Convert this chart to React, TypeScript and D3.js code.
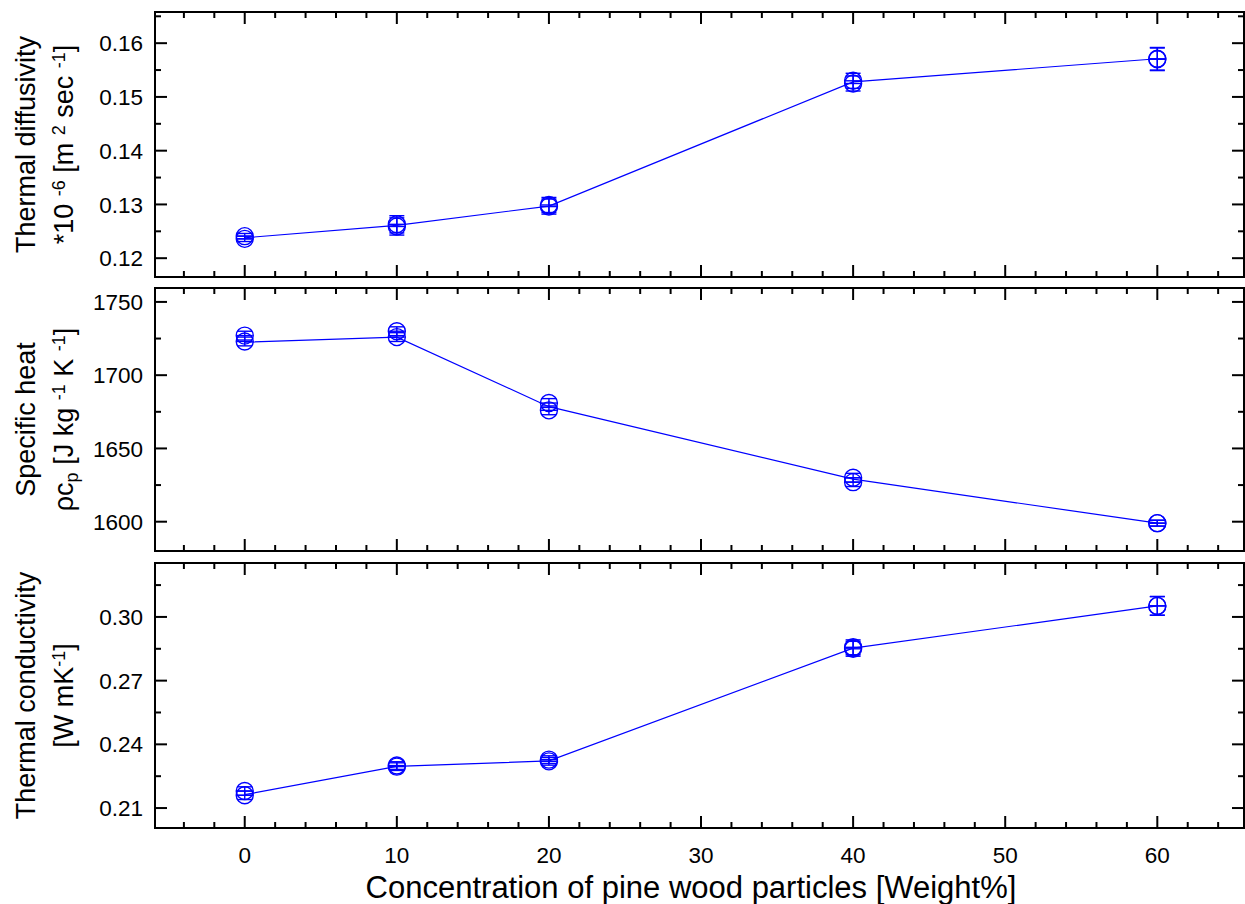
import React, { useEffect, useRef } from 'react';
import * as d3 from 'd3';

// concentration of pine wood particles (weight %)
const concentration = [0, 10, 20, 40, 60];

// thermal diffusivity *1e-6 m2/s
const diffMean = [0.1238, 0.1261, 0.1297, 0.1528, 0.1571];
const diffRepA = [0.1241, 0.1263, 0.1299, 0.1530, 0.1571];
const diffRepB = [0.1236, 0.1259, 0.1296, 0.1525, 0.1570];
const diffErr = [0.0005, 0.0016, 0.0014, 0.0014, 0.0021];

// specific heat rho*cp
const heatMean = [1722.5, 1726, 1678.5, 1629, 1599];
const heatRepA = [1727, 1730, 1681, 1630, 1599];
const heatRepB = [1723, 1726, 1676, 1627, 1599];
const heatErr = [3, 3, 3, 3, 2];

// thermal conductivity W/mK
const condMean = [0.2163, 0.2296, 0.2322, 0.2853, 0.3052];
const condRepA = [0.2180, 0.2300, 0.2328, 0.2857, 0.3052];
const condRepB = [0.2160, 0.2295, 0.2320, 0.2850, 0.3052];
const condErr = [0.002, 0.0018, 0.0018, 0.0035, 0.0044];

const xTicks = [0, 10, 20, 30, 40, 50, 60];

const BLUE = '#0000ff';
const FONT = 'Liberation Sans, Arial, sans-serif';

type Panel = {
  top: number;
  bottom: number;
  domain: [number, number];
  ticks: number[];
  minor: number;
  fmt: (v: number) => string;
  mean: number[];
  reps: number[][];
  err: number[];
  label1: string;
  label2: (t: any) => void;
};

export default function App() {
  const ref = useRef<SVGSVGElement>(null);

  useEffect(() => {
    const svg = d3.select(ref.current);
    svg.selectAll('*').remove();

    const left = 155, right = 1244;
    const x = d3.scaleLinear().domain([-5.9, 65.7]).range([left, right]);

    const sup = (t: any, s: string) =>
      t.append('tspan').attr('baseline-shift', '45%').attr('font-size', 18).text(s);
    const sub = (t: any, s: string) =>
      t.append('tspan').attr('baseline-shift', '-25%').attr('font-size', 18).text(s);
    const txt = (t: any, s: string) =>
      t.append('tspan').attr('baseline-shift', '0').text(s);

    const panels: Panel[] = [
      {
        top: 12, bottom: 277, domain: [0.1165, 0.1658],
        ticks: [0.12, 0.13, 0.14, 0.15, 0.16], minor: 0.005,
        fmt: d3.format('.2f'),
        mean: diffMean, reps: [diffRepA, diffRepB], err: diffErr,
        label1: 'Thermal diffusivity',
        label2: (t) => {
          txt(t, '*10 ');
          sup(t, '-6');
          txt(t, '  [m ');
          sup(t, '2');
          txt(t, ' sec ');
          sup(t, '-1');
          txt(t, ']');
        },
      },
      {
        top: 288, bottom: 551, domain: [1580, 1759.5],
        ticks: [1600, 1650, 1700, 1750], minor: 25,
        fmt: d3.format('d'),
        mean: heatMean, reps: [heatRepA, heatRepB], err: heatErr,
        label1: 'Specific heat',
        label2: (t) => {
          txt(t, '\u03c1c');
          sub(t, 'p');
          txt(t, ' [J kg ');
          sup(t, '-1');
          txt(t, ' K ');
          sup(t, '-1');
          txt(t, ']');
        },
      },
      {
        top: 563, bottom: 828, domain: [0.2006, 0.3254],
        ticks: [0.21, 0.24, 0.27, 0.30], minor: 0.015,
        fmt: d3.format('.2f'),
        mean: condMean, reps: [condRepA, condRepB], err: condErr,
        label1: 'Thermal conductivity',
        label2: (t) => {
          txt(t, '[W mK');
          sup(t, '-1');
          txt(t, ']');
        },
      },
    ];

    const xMinor = d3.range(-4, 66, 2).filter((v) => v % 10 !== 0);

    panels.forEach((p) => {
      const y = d3.scaleLinear().domain(p.domain).range([p.bottom, p.top]);
      const g = svg.append('g');

      // ticks, all inward
      const tick = (x1: number, y1: number, x2: number, y2: number) =>
        g.append('line').attr('x1', x1).attr('y1', y1).attr('x2', x2).attr('y2', y2)
          .attr('stroke', '#000').attr('stroke-width', 2);

      xTicks.forEach((v) => {
        tick(x(v), p.bottom, x(v), p.bottom - 12);
        tick(x(v), p.top, x(v), p.top + 12);
      });
      xMinor.forEach((v) => {
        tick(x(v), p.bottom, x(v), p.bottom - 6);
        tick(x(v), p.top, x(v), p.top + 6);
      });
      p.ticks.forEach((v) => {
        tick(left, y(v), left + 12, y(v));
        tick(right, y(v), right - 12, y(v));
        g.append('text').attr('x', left - 12).attr('y', y(v)).attr('dy', '0.36em')
          .attr('text-anchor', 'end').attr('font-family', FONT).attr('font-size', 22.5)
          .text(p.fmt(v));
      });
      const m0 = Math.ceil(p.domain[0] / p.minor - 1e-6);
      const m1 = Math.floor(p.domain[1] / p.minor + 1e-6);
      for (let k = m0; k <= m1; k++) {
        const v = k * p.minor;
        if (p.ticks.some((t) => Math.abs(t - v) < p.minor / 10)) continue;
        tick(left, y(v), left + 6, y(v));
        tick(right, y(v), right - 6, y(v));
      }

      // frame
      g.append('rect').attr('x', left).attr('y', p.top)
        .attr('width', right - left).attr('height', p.bottom - p.top)
        .attr('fill', 'none').attr('stroke', '#000').attr('stroke-width', 2);

      // mean line
      const line = d3.line<number>().x((_, i) => x(concentration[i])).y((d) => y(d));
      g.append('path').datum(p.mean).attr('d', line)
        .attr('fill', 'none').attr('stroke', BLUE).attr('stroke-width', 1.2);

      // replicate markers with error bars
      p.reps.forEach((rep) => {
        rep.forEach((v, i) => {
          const cx = x(concentration[i]);
          const cy = y(v);
          const hi = y(v + p.err[i]);
          const lo = y(v - p.err[i]);
          const m = g.append('g').attr('stroke', BLUE).attr('stroke-width', 1.4).attr('fill', 'none');
          m.append('line').attr('x1', cx).attr('x2', cx).attr('y1', hi).attr('y2', lo);
          m.append('line').attr('x1', cx - 7.5).attr('x2', cx + 7.5).attr('y1', hi).attr('y2', hi);
          m.append('line').attr('x1', cx - 7.5).attr('x2', cx + 7.5).attr('y1', lo).attr('y2', lo);
          m.append('line').attr('x1', cx - 8).attr('x2', cx + 8).attr('y1', cy).attr('y2', cy);
          m.append('circle').attr('cx', cx).attr('cy', cy).attr('r', 8.5);
        });
      });

      // y labels
      const mid = (p.top + p.bottom) / 2;
      g.append('text').attr('transform', `translate(35,${mid}) rotate(-90)`)
        .attr('text-anchor', 'middle').attr('font-family', FONT).attr('font-size', 27)
        .text(p.label1);
      const t2 = g.append('text').attr('transform', `translate(73,${mid}) rotate(-90)`)
        .attr('text-anchor', 'middle').attr('font-family', FONT).attr('font-size', 27);
      p.label2(t2);
    });

    // x tick labels
    xTicks.forEach((v) => {
      svg.append('text').attr('x', x(v)).attr('y', 863).attr('text-anchor', 'middle')
        .attr('font-family', FONT).attr('font-size', 22.5).text(String(v));
    });
    svg.append('text').attr('x', 691).attr('y', 898).attr('text-anchor', 'middle')
      .attr('font-family', FONT).attr('font-size', 31)
      .text('Concentration of pine wood particles [Weight%]');
  }, []);

  return (
    <svg ref={ref} width={1245} height={904}
      style={{ position: 'absolute', left: 0, top: 0, background: 'white' }} />
  );
}
